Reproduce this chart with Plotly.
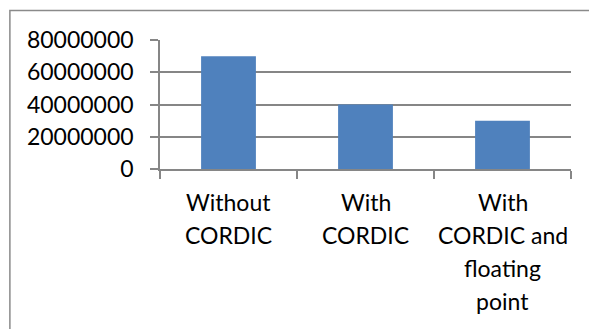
import plotly.graph_objects as go

# Execution cost for each implementation variant
categories = [
    "Without<br>CORDIC",
    "With<br>CORDIC",
    "With<br>CORDIC and<br>floating<br>point",
]
values = [70000000, 40000000, 30000000]
y_ticks = [0, 20000000, 40000000, 60000000, 80000000]

W, H = 589, 329
L, R, T, B = 160, 18.3, 39.5, 160

grid = "#868686"
font = dict(family="Lato, 'Open Sans', sans-serif", size=23, color="#000000")

fig = go.Figure(
    go.Bar(
        x=categories,
        y=values,
        marker=dict(color="#4F81BD", line=dict(width=0)),
    )
)

pw = W - L - R
ph = H - T - B

# Category labels: one text line per annotation so the line pitch can be set
LINE_PITCH = 33
FIRST_LINE = 33
label_annotations = []
for cat in categories:
    for j, line in enumerate(cat.split("<br>")):
        label_annotations.append(
            dict(
                x=cat,
                xref="x",
                y=0,
                yref="paper",
                text=line,
                showarrow=False,
                xanchor="center",
                yanchor="middle",
                yshift=-(FIRST_LINE + j * LINE_PITCH),
                font=font,
            )
        )

fig.update_layout(
    width=W,
    height=H,
    margin=dict(l=L, r=R, t=T, b=B, pad=0),
    paper_bgcolor="white",
    plot_bgcolor="white",
    bargap=0.6,
    showlegend=False,
    font=font,
    xaxis=dict(
        type="category",
        tickson="boundaries",
        ticks="outside",
        ticklen=8,
        tickwidth=1.5,
        tickcolor=grid,
        showline=True,
        linecolor=grid,
        linewidth=1.5,
        showgrid=False,
        showticklabels=False,
    ),
    yaxis=dict(
        range=[0, 80000000],
        tickvals=y_ticks,
        ticktext=[str(v) for v in y_ticks],
        ticks="outside",
        ticklen=8,
        tickwidth=1.5,
        tickcolor=grid,
        showline=True,
        linecolor=grid,
        linewidth=1.5,
        showgrid=True,
        gridcolor=grid,
        gridwidth=1.5,
        zeroline=False,
        ticklabelstandoff=12,
        tickfont=font,
    ),
    annotations=label_annotations,
    shapes=[
        # chart frame (left and top edges fall inside the page)
        dict(
            type="rect",
            xref="paper",
            yref="paper",
            x0=(10 - L) / pw,
            x1=(W + 20 - L) / pw,
            y0=-(H + 20 - T - ph) / ph,
            y1=1 + (T - 10) / ph,
            line=dict(color="#8a8a8a", width=1.5),
            layer="below",
        )
    ],
)

fig.write_html("out.html")
